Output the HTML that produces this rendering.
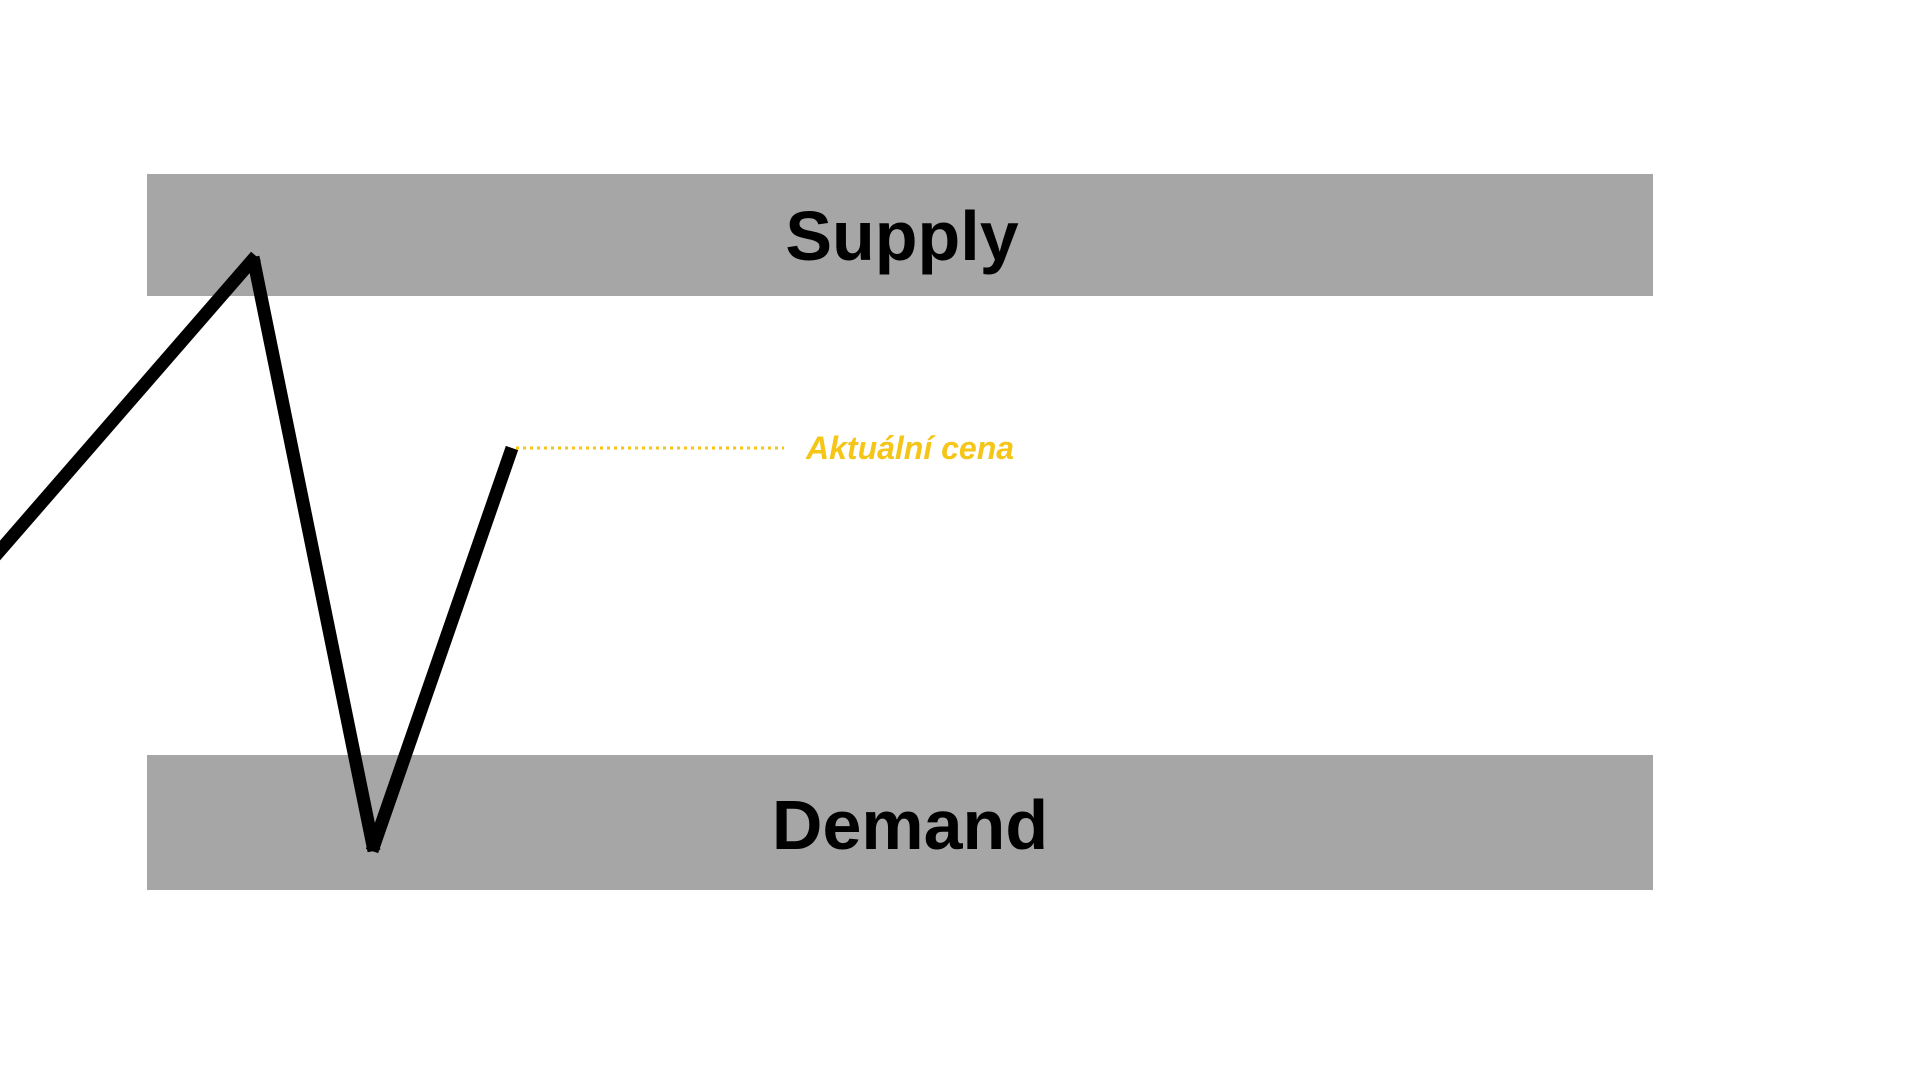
<!DOCTYPE html>
<html><head><meta charset="utf-8"><style>
html,body{margin:0;padding:0;background:#fff;width:1920px;height:1080px;overflow:hidden}
</style></head><body>
<svg width="1920" height="1080" viewBox="0 0 1920 1080" xmlns="http://www.w3.org/2000/svg">
<rect x="147" y="174" width="1506" height="122" fill="#a6a6a6"/>
<rect x="147" y="755" width="1506" height="135" fill="#a6a6a6"/>
<text x="902" y="260" text-anchor="middle" font-family="Liberation Sans, sans-serif" font-weight="bold" font-size="70" fill="#000">Supply</text>
<text x="910" y="849" text-anchor="middle" font-family="Liberation Sans, sans-serif" font-weight="bold" font-size="70" fill="#000">Demand</text>
<g stroke="#000" stroke-width="13" stroke-linecap="butt" fill="none">
<line x1="-10" y1="562" x2="256" y2="256"/>
<line x1="253" y1="257" x2="374" y2="851"/>
<line x1="372" y1="851" x2="512" y2="448"/>
</g>
<line x1="516" y1="448" x2="784" y2="448" stroke="#f5c518" stroke-width="3" stroke-dasharray="3,4"/>
<text x="806" y="459" font-family="Liberation Sans, sans-serif" font-weight="bold" font-style="italic" font-size="32" fill="#f5c518">Aktuální cena</text>
</svg>
</body></html>
